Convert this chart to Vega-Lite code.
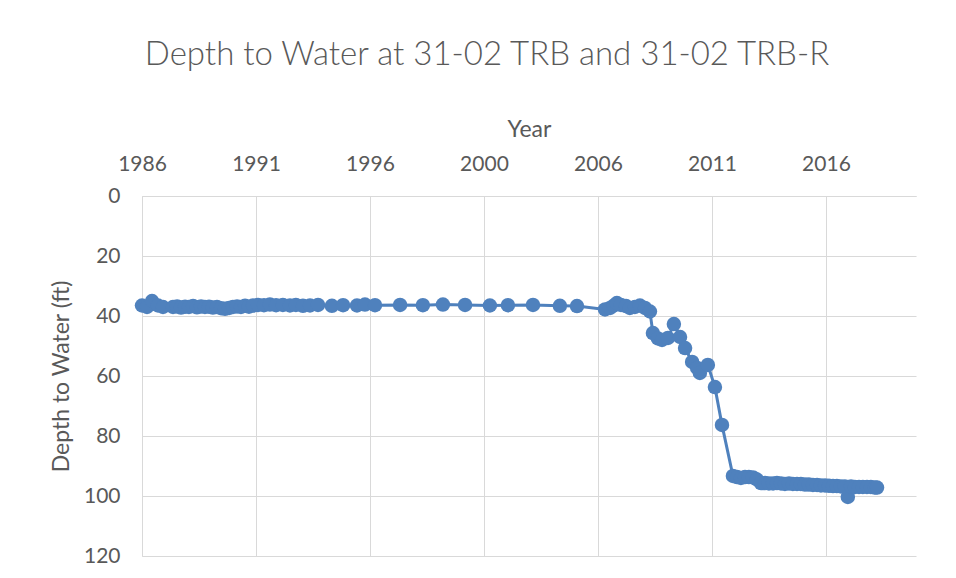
{
  "$schema": "https://vega.github.io/schema/vega-lite/v6.json",
  "width": 774,
  "height": 360,
  "autosize": {"type": "none"},
  "padding": {"left": 142, "top": 196, "right": 40, "bottom": 22},
  "background": "white",
  "title": {
    "text": "Depth to Water at 31-02 TRB and 31-02 TRB-R",
    "anchor": "middle",
    "frame": "group",
    "dx": -42,
    "offset": 46,
    "font": "Lato",
    "fontSize": 33,
    "fontWeight": 300,
    "color": "#595959"
  },
  "config": {
    "view": {"stroke": null},
    "axis": {
      "labelFont": "Lato",
      "titleFont": "Lato",
      "labelColor": "#595959",
      "titleColor": "#595959",
      "labelFontSize": 21,
      "titleFontSize": 23,
      "titleFontWeight": "normal",
      "gridColor": "#d9d9d9",
      "gridWidth": 1,
      "domainColor": "#d9d9d9",
      "domainWidth": 1,
      "ticks": false,
      "tickSize": 0
    }
  },
  "data": {
    "values": [
      {"year": 1986.00, "depth": 36.5},
      {"year": 1986.22, "depth": 37.0},
      {"year": 1986.44, "depth": 35.0},
      {"year": 1986.70, "depth": 36.5},
      {"year": 1986.92, "depth": 37.0},
      {"year": 1987.36, "depth": 37.0},
      {"year": 1987.54, "depth": 36.8},
      {"year": 1987.71, "depth": 37.2},
      {"year": 1987.89, "depth": 36.9},
      {"year": 1988.06, "depth": 37.0},
      {"year": 1988.24, "depth": 36.7},
      {"year": 1988.41, "depth": 37.1},
      {"year": 1988.59, "depth": 36.8},
      {"year": 1988.76, "depth": 37.0},
      {"year": 1988.94, "depth": 36.9},
      {"year": 1989.11, "depth": 37.2},
      {"year": 1989.29, "depth": 37.0},
      {"year": 1989.47, "depth": 37.4},
      {"year": 1989.64, "depth": 37.6},
      {"year": 1989.82, "depth": 37.3},
      {"year": 1989.99, "depth": 37.0},
      {"year": 1990.17, "depth": 36.8},
      {"year": 1990.34, "depth": 37.0},
      {"year": 1990.52, "depth": 36.6},
      {"year": 1990.69, "depth": 36.9},
      {"year": 1990.87, "depth": 36.5},
      {"year": 1991.09, "depth": 36.3},
      {"year": 1991.35, "depth": 36.4},
      {"year": 1991.61, "depth": 36.2},
      {"year": 1991.88, "depth": 36.4},
      {"year": 1992.18, "depth": 36.3},
      {"year": 1992.49, "depth": 36.5},
      {"year": 1992.75, "depth": 36.3},
      {"year": 1993.06, "depth": 36.6},
      {"year": 1993.37, "depth": 36.5},
      {"year": 1993.72, "depth": 36.3},
      {"year": 1994.33, "depth": 36.6},
      {"year": 1994.82, "depth": 36.4},
      {"year": 1995.43, "depth": 36.5},
      {"year": 1995.78, "depth": 36.2},
      {"year": 1996.22, "depth": 36.4},
      {"year": 1997.32, "depth": 36.3},
      {"year": 1998.32, "depth": 36.4},
      {"year": 1999.20, "depth": 36.2},
      {"year": 2000.17, "depth": 36.3},
      {"year": 2001.26, "depth": 36.5},
      {"year": 2002.05, "depth": 36.4},
      {"year": 2003.15, "depth": 36.3},
      {"year": 2004.33, "depth": 36.6},
      {"year": 2005.08, "depth": 36.7},
      {"year": 2006.31, "depth": 37.8},
      {"year": 2006.53, "depth": 37.3},
      {"year": 2006.70, "depth": 36.5},
      {"year": 2006.83, "depth": 35.7},
      {"year": 2007.01, "depth": 36.3},
      {"year": 2007.23, "depth": 36.7},
      {"year": 2007.40, "depth": 37.3},
      {"year": 2007.62, "depth": 37.0},
      {"year": 2007.84, "depth": 36.5},
      {"year": 2008.06, "depth": 37.3},
      {"year": 2008.28, "depth": 38.5},
      {"year": 2008.41, "depth": 45.7},
      {"year": 2008.63, "depth": 47.5},
      {"year": 2008.81, "depth": 48.0},
      {"year": 2009.07, "depth": 47.3},
      {"year": 2009.33, "depth": 42.7},
      {"year": 2009.60, "depth": 47.0},
      {"year": 2009.82, "depth": 50.7},
      {"year": 2010.13, "depth": 55.3},
      {"year": 2010.35, "depth": 57.3},
      {"year": 2010.47, "depth": 59.0},
      {"year": 2010.82, "depth": 56.3},
      {"year": 2011.13, "depth": 63.7},
      {"year": 2011.44, "depth": 76.3},
      {"year": 2011.92, "depth": 93.3},
      {"year": 2012.10, "depth": 93.7},
      {"year": 2012.27, "depth": 94.0},
      {"year": 2012.45, "depth": 93.7},
      {"year": 2012.62, "depth": 93.7},
      {"year": 2012.80, "depth": 93.8},
      {"year": 2012.97, "depth": 94.5},
      {"year": 2013.15, "depth": 95.7},
      {"year": 2013.33, "depth": 95.7},
      {"year": 2013.50, "depth": 95.8},
      {"year": 2013.68, "depth": 95.8},
      {"year": 2013.85, "depth": 95.7},
      {"year": 2014.03, "depth": 95.8},
      {"year": 2014.20, "depth": 96.0},
      {"year": 2014.38, "depth": 95.8},
      {"year": 2014.55, "depth": 96.0},
      {"year": 2014.73, "depth": 96.0},
      {"year": 2014.90, "depth": 96.0},
      {"year": 2015.08, "depth": 96.2},
      {"year": 2015.25, "depth": 96.2},
      {"year": 2015.43, "depth": 96.3},
      {"year": 2015.61, "depth": 96.3},
      {"year": 2015.78, "depth": 96.5},
      {"year": 2015.96, "depth": 96.5},
      {"year": 2016.13, "depth": 96.6},
      {"year": 2016.31, "depth": 96.7},
      {"year": 2016.48, "depth": 96.7},
      {"year": 2016.66, "depth": 96.8},
      {"year": 2016.83, "depth": 96.8},
      {"year": 2016.96, "depth": 100.3},
      {"year": 2017.10, "depth": 96.8},
      {"year": 2017.27, "depth": 97.0},
      {"year": 2017.45, "depth": 97.0},
      {"year": 2017.62, "depth": 97.0},
      {"year": 2017.80, "depth": 97.0},
      {"year": 2017.97, "depth": 97.0},
      {"year": 2018.15, "depth": 97.2},
      {"year": 2018.24, "depth": 97.2}
    ]
  },
  "mark": {
    "type": "line",
    "color": "#4f81bd",
    "strokeWidth": 3,
    "point": {"filled": true, "size": 210, "color": "#4f81bd", "opacity": 1}
  },
  "encoding": {
    "x": {
      "field": "year",
      "type": "quantitative",
      "scale": {"domain": [1986, 2019.95], "zero": false, "nice": false},
      "axis": {
        "orient": "top",
        "title": "Year",
        "values": [1986, 1991, 1996, 2001, 2006, 2011, 2016],
        "labelExpr": "datum.value == 2001 ? '2000' : format(datum.value, 'd')",
        "labelPadding": 22,
        "titlePadding": 12,
        "labelFlush": false,
        "labelOverlap": false
      }
    },
    "y": {
      "field": "depth",
      "type": "quantitative",
      "scale": {"domain": [0, 120], "reverse": true, "nice": false},
      "axis": {
        "title": "Depth to Water (ft)",
        "values": [0, 20, 40, 60, 80, 100, 120],
        "labelPadding": 22,
        "titlePadding": 10,
        "labelBaseline": "middle"
      }
    }
  }
}
